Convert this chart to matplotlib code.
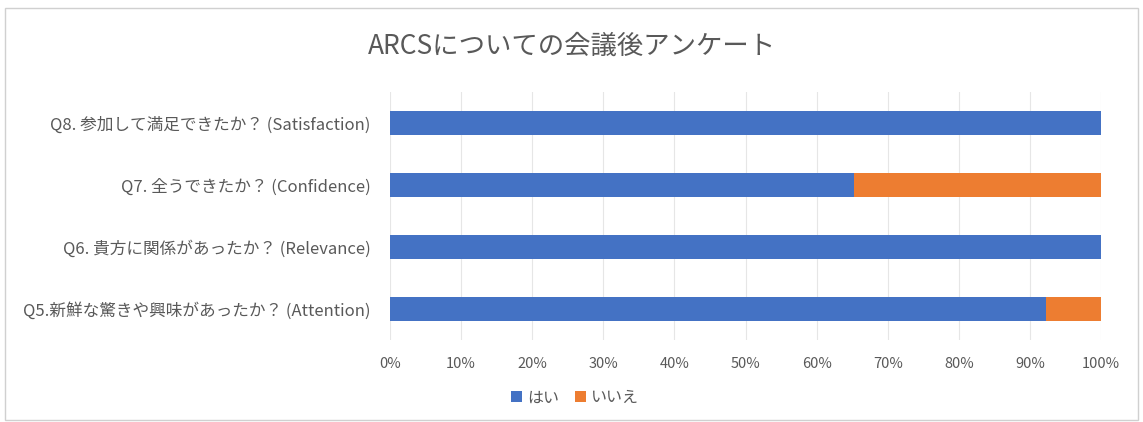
import matplotlib.pyplot as plt
from matplotlib.patches import Rectangle
from matplotlib.ticker import PercentFormatter

plt.rcParams['font.family'] = ['Noto Sans CJK JP', 'DejaVu Sans']

# ====== DATA =======
questions = [
    "Q5.新鮮な驚きや興味があったか？ (Attention)",
    "Q6. 貴方に関係があったか？ (Relevance)",
    "Q7. 全うできたか？ (Confidence)",
    "Q8. 参加して満足できたか？ (Satisfaction)",
]
yes_pct = [92.3, 100.0, 65.2, 100.0]
no_pct = [7.7, 0.0, 34.8, 0.0]
series_names = ["はい", "いいえ"]
title = "ARCSについての会議後アンケート"

BLUE = "#4472C4"
ORANGE = "#ED7D31"
TXT = "#595959"

# ====== PLOT =======
fig = plt.figure(figsize=(11.43, 4.22), dpi=100)
fig.patches.append(Rectangle((0.004, 0.005), 0.992, 0.975, transform=fig.transFigure,
                             fill=False, edgecolor="#D0D0D0", linewidth=1.0))

ax = fig.add_axes([0.3412, 0.1943, 0.6221, 0.5877])
ypos = range(len(questions))
ax.barh(ypos, yes_pct, height=0.4, color=BLUE, label=series_names[0], zorder=3)
ax.barh(ypos, no_pct, left=yes_pct, height=0.4, color=ORANGE, label=series_names[1], zorder=3)

ax.set_xlim(0, 100)
ax.set_ylim(-0.5, len(questions) - 0.5)
ax.set_xticks(range(0, 101, 10))
ax.xaxis.set_major_formatter(PercentFormatter(decimals=0))
ax.set_yticks(list(ypos))
ax.set_yticklabels(questions)
ax.tick_params(axis='both', length=0, colors=TXT)
ax.tick_params(axis='x', pad=12, labelsize=10.5)
ax.tick_params(axis='y', pad=14, labelsize=12)
ax.grid(axis='x', color="#E6E6E6", linewidth=0.8, zorder=0)
for s in ax.spines.values():
    s.set_visible(False)

fig.text(0.5, 0.89, title, ha='center', va='center', fontsize=19, color=TXT)

fig.legend(loc='center', bbox_to_anchor=(0.503, 0.057), ncol=2, frameon=False,
           fontsize=11.5, handlelength=0.7, handleheight=0.7, handletextpad=0.3,
           columnspacing=1.0, labelcolor=TXT)

fig.savefig("out.png", dpi=100, facecolor="white")
